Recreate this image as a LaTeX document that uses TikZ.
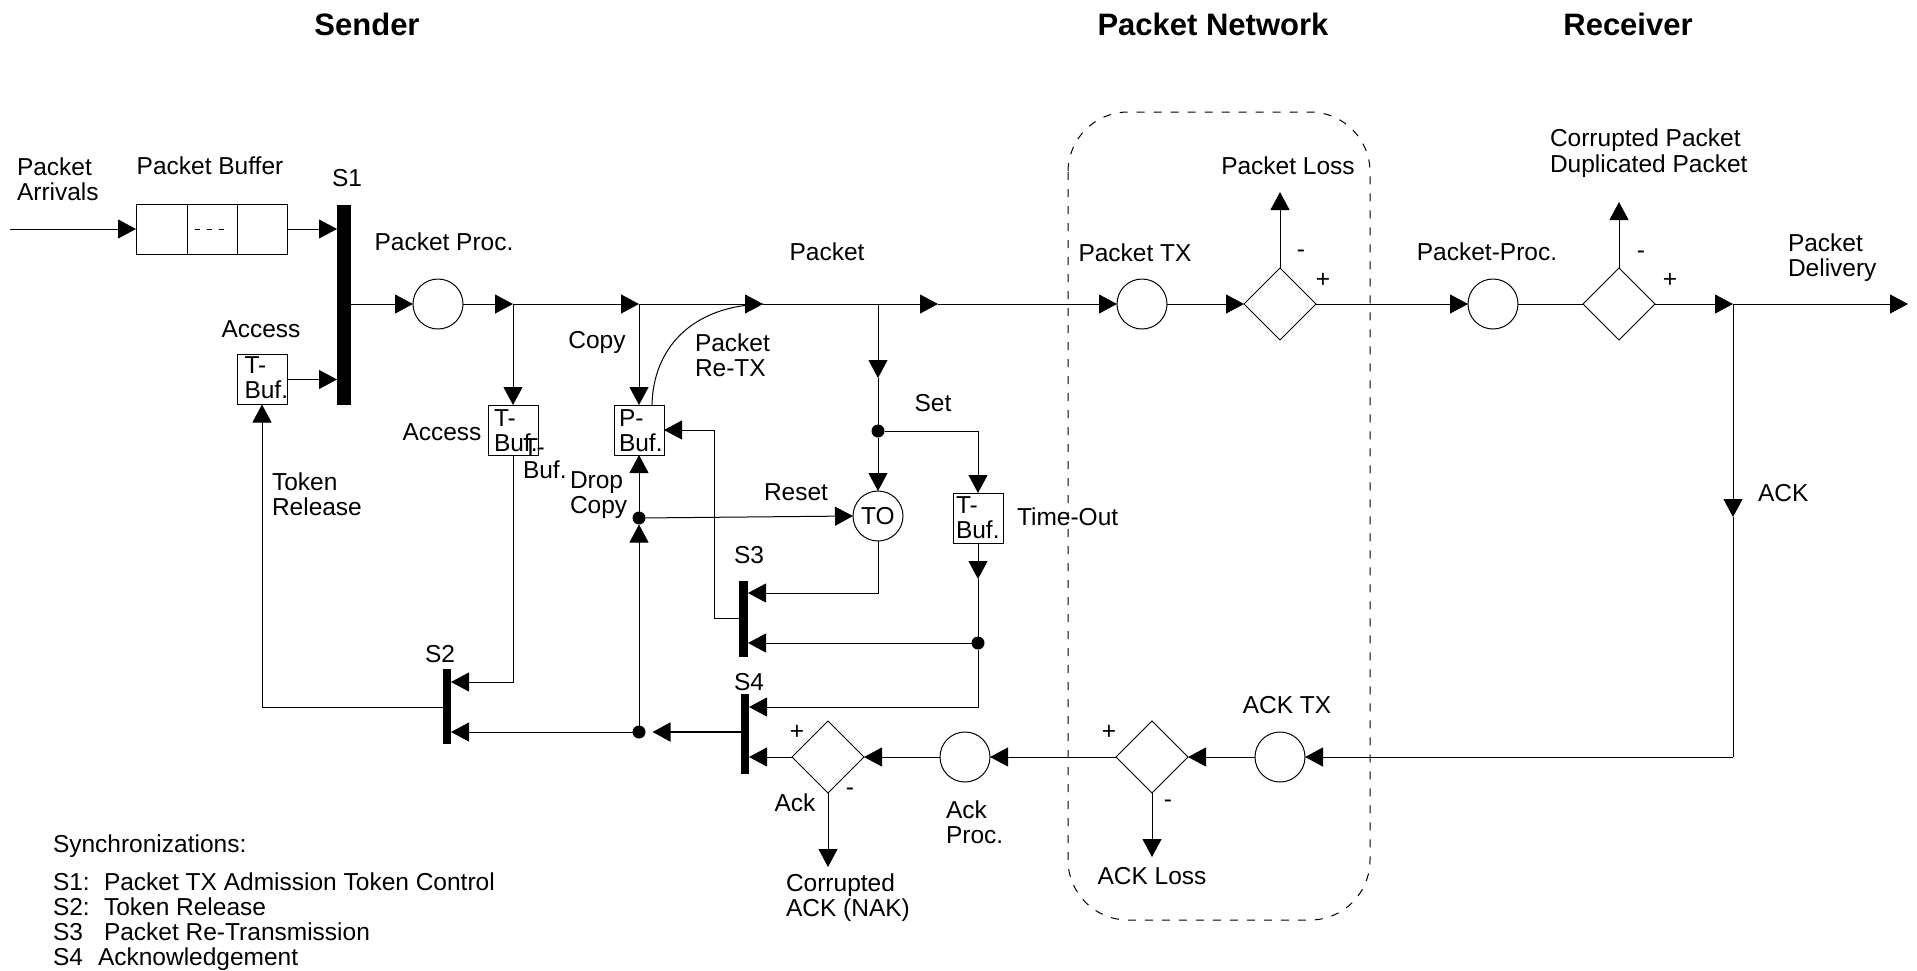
\documentclass[tikz,border=0pt]{standalone}
\usepackage{fontspec}
\setmainfont{Liberation Sans}
\usetikzlibrary{shapes.geometric,arrows.meta}
\begin{document}
\begin{tikzpicture}[x=1pt,y=-1pt,
  every node/.style={font=\fontsize{24.5}{25}\selectfont, inner sep=0pt, outer sep=0pt},
  ln/.style={line width=1pt},
  arr/.style={ln,-{Triangle[length=18pt,width=19pt]}},
  circ/.style={circle,draw,line width=1pt,minimum size=50pt},
  dia/.style={diamond,draw,line width=1pt,minimum width=72pt,minimum height=72pt},
  buf/.style={rectangle,draw,line width=1pt,minimum width=50pt,minimum height=50pt},
  bar/.style={rectangle,fill=black},
  dot/.style={circle,fill=black,minimum size=13pt},
  t/.style={anchor=base},
  tw/.style={anchor=base west},
  tl/.style={align=left,anchor=north west},
  sg/.style={anchor=center},
  ttl/.style={anchor=base,font=\fontsize{31}{33}\selectfont\bfseries},
]
\useasboundingbox (0,0) rectangle (1917,970);

% titles
\node[ttl] (tS) at (367,35) {Sender};
\node[ttl] (tN) at (1213,35) {Packet Network};
\node[ttl] (tR) at (1628,35) {Receiver};

% network boundary
\draw[ln, dash pattern=on 8pt off 9pt, rounded corners=60pt] (1068,112) rectangle (1370,920);

% packet buffer
\node[buf, minimum width=151pt] (PB0) at (211.5,229) {};
\draw[ln] (187,204) -- (187,254);
\draw[ln] (237,204) -- (237,254);
\draw[ln, dash pattern=on 5pt off 7pt] (195,229) -- (230,229);

% bars
\node[bar, minimum width=14pt, minimum height=200pt] (S1) at (344,305) {};
\node[bar, minimum width=8pt, minimum height=75pt] (S2) at (447,706.5) {};
\node[bar, minimum width=9pt, minimum height=76pt] (S3) at (743.5,619) {};
\node[bar, minimum width=8pt, minimum height=80pt] (S4) at (745,734) {};

% circles
\node[circ] (PP) at (438,304) {};
\node[circ] (PTX) at (1142,304) {};
\node[circ] (PP2) at (1493,304) {};
\node[circ] (TO) at (878,516) {TO};
\node[circ] (AP) at (965,757) {};
\node[circ] (ATX) at (1280,757) {};

% diamonds
\node[dia] (D1) at (1280,304) {};
\node[dia] (D2) at (1619,304) {};
\node[dia] (DA) at (828,757) {};
\node[dia] (DL) at (1152,757) {};

% buffers
\node[buf] (TB1) at (262,379.5) {};
\node[buf] (TB2) at (513,430) {};
\node[buf] (PB) at (639,430) {};
\node[buf] (TB3) at (978,518) {};
\node[tl] at (244.5,356.5) {T-\\Buf.};
\node[tl] at (494,409.5) {T-\\Buf.};
\node[tl] at (619,409.5) {P-\\Buf.};
\node[tl] at (956,496.5) {T-\\Buf.};
\node[tl, font=\fontsize{24.5}{23}\selectfont] at (523,438.5) {T-\\Buf.};

% dots
\node[dot] (dset) at (878,431) {};
\node[dot] (d2) at (978,643) {};
\node[dot] (ddrop) at (639,518) {};
\node[dot] (ds4) at (639,732) {};

% coordinates
\coordinate (in0) at (10,229);
\coordinate (j1) at (513,304);
\coordinate (j2) at (639,304);
\coordinate (j3) at (763,304);
\coordinate (j4) at (938,304);
\coordinate (j5) at (878,304);
\coordinate (jm) at (878,378);
\coordinate (j6) at (1733,304);
\coordinate (outc) at (1908,304);
\coordinate (loss1) at (1280,192);
\coordinate (loss2) at (1619,202);
\coordinate (nak) at (828,867);
\coordinate (ackloss) at (1152,857);
\coordinate (ackmid) at (1733,517);
\coordinate (ackc) at (1733,757);
\coordinate (tbm) at (978,579);
\coordinate (s3b) at (714,618);

% connectors
\draw[arr] (in0) -- (PB0.west);
\draw[arr] (PB0.east) -- (PB0.east -| S1.west);
\draw[arr] (TB1.east) -- (TB1.east -| S1.west);
\draw[arr] (S1.east |- PP.west) -- (PP.west);
\draw[arr] (PP.east) -- (j1);
\draw[arr] (j1) -- (j2);
\draw[arr] (j2) -- (j3);
\draw[arr] (j3) -- (j4);
\draw[arr] (j4) -- (PTX.west);
\draw[arr] (j1) -- (TB2.north);
\draw[arr] (TB2.south) |- (S2.east |- 0,682);
\draw[arr] (S2.west |- 0,707) -| (TB1.south);
\draw[arr] (j2) -- (PB.north);
\draw[ln] (PB.north -| 652,0) .. controls (653,350) and (690,306) .. (j3);
\draw[arr] (S3.west |- s3b) -- (s3b) |- (PB.east);
\draw[arr] (j5) -- (jm);
\draw[ln] (jm) -- (dset);
\draw[arr] (dset) -- (TO.north);
\draw[arr] (dset) -| (TB3.north);
\draw[arr] (TB3.south) -- (tbm);
\draw[ln] (tbm) -- (d2);
\draw[arr] (d2) -- (d2 -| S3.east);
\draw[arr] (d2) |- (S4.east |- 0,707);
\draw[arr] (TO.south) |- (S3.east |- 0,593);
\draw[arr] (ddrop) -- (PB.south);
\draw[arr] (ddrop) -- (TO.west);
\draw[arr] (ds4) -- (ddrop.south);
\draw[arr, line width=2pt] (S4.west |- ds4) -- ([xshift=7pt]ds4.east);
\draw[arr] (ds4) -- (ds4 -| S2.east);
\draw[arr] (DA.west) -- (DA.west -| S4.east);
\draw[arr] (DA.south) -- (nak);
\draw[arr] (AP.west) -- (DA.east);
\draw[arr] (DL.west) -- (AP.east);
\draw[arr] (ATX.west) -- (DL.east);
\draw[arr] (ackc) -- (ATX.east);
\draw[arr] (DL.south) -- (ackloss);
\draw[arr] (PTX.east) -- (D1.west);
\draw[arr] (D1.north) -- (loss1);
\draw[arr] (D1.east) -- (PP2.west);
\draw[ln] (PP2.east) -- (D2.west);
\draw[arr] (D2.north) -- (loss2);
\draw[arr] (D2.east) -- (j6);
\draw[arr] (j6) -- (outc);
\draw[arr] (j6) -- (ackmid);
\draw[ln] (ackmid) -- (ackc);

% labels
\node[tl] (lArr) at (17,157.5) {Packet\\Arrivals};
\node[t] (lPB) at (210,174.5) {Packet Buffer};
\node[t] (lS1) at (347,186.5) {S1};
\node[t] (lPP) at (444,250.5) {Packet Proc.};
\node[t] (lAc1) at (261,337.5) {Access};
\node[t] (lAc2) at (442,440.5) {Access};
\node[t] (lPk) at (827,260.5) {Packet};
\node[t] (lCp) at (597,348.5) {Copy};
\node[tl] (lRe) at (695,333.5) {Packet\\Re-TX};
\node[tl] (lDr) at (570,471.5) {Drop\\Copy};
\node[t] (lSet) at (933,411.5) {Set};
\node[t] (lRes) at (796,500.5) {Reset};
\node[tw] (lTO) at (1017,525.5) {Time-Out};
\node[tl] (lTR) at (272,472.5) {Token\\Release};
\node[t] (lS2) at (440,662.5) {S2};
\node[t] (lS3) at (749,563.5) {S3};
\node[t] (lS4) at (749,690.5) {S4};
\node[t] (lAck) at (795,811.5) {Ack};
\node[tl] (lNak) at (786,873.5) {Corrupted\\ACK (NAK)};
\node[tl] (lAP) at (946,800.5) {Ack\\Proc.};
\node[t] (lATX) at (1287,713.5) {ACK TX};
\node[t] (lAL) at (1152,884.5) {ACK Loss};
\node[t] (lPTX) at (1135,261.5) {Packet TX};
\node[t] (lPL) at (1288,174.5) {Packet Loss};
\node[t] (lPP2) at (1487,260.5) {Packet-Proc.};
\node[tl, font=\fontsize{24.5}{26}\selectfont] (lCor) at (1550,128.5) {Corrupted Packet\\Duplicated Packet};
\node[tl] (lDel) at (1788,233.5) {Packet\\Delivery};
\node[tw] (lACK) at (1758,501.5) {ACK};

% signs
\node[sg] at (797,732) {+};
\node[sg] at (850,792) {-};
\node[sg] at (1109,732) {+};
\node[sg] at (1168,804) {-};
\node[sg] at (1301,254) {-};
\node[sg] at (1323,280) {+};
\node[sg] at (1641,255) {-};
\node[sg] at (1670,280) {+};

% legend
\node[tw] (lg0) at (53,852.5) {Synchronizations:};
\node[tw] (lg1a) at (53,890) {S1:};
\node[tw] (lg1b) at (104,890) {Packet TX Admission Token Control};
\node[tw] (lg2a) at (53,915) {S2:};
\node[tw] (lg2b) at (104,915) {Token Release};
\node[tw] (lg3a) at (53,940.5) {S3};
\node[tw] (lg3b) at (104,940.5) {Packet Re-Transmission};
\node[tw] (lg4a) at (53,965) {S4};
\node[tw] (lg4b) at (98,965) {Acknowledgement};
\end{tikzpicture}
\end{document}
